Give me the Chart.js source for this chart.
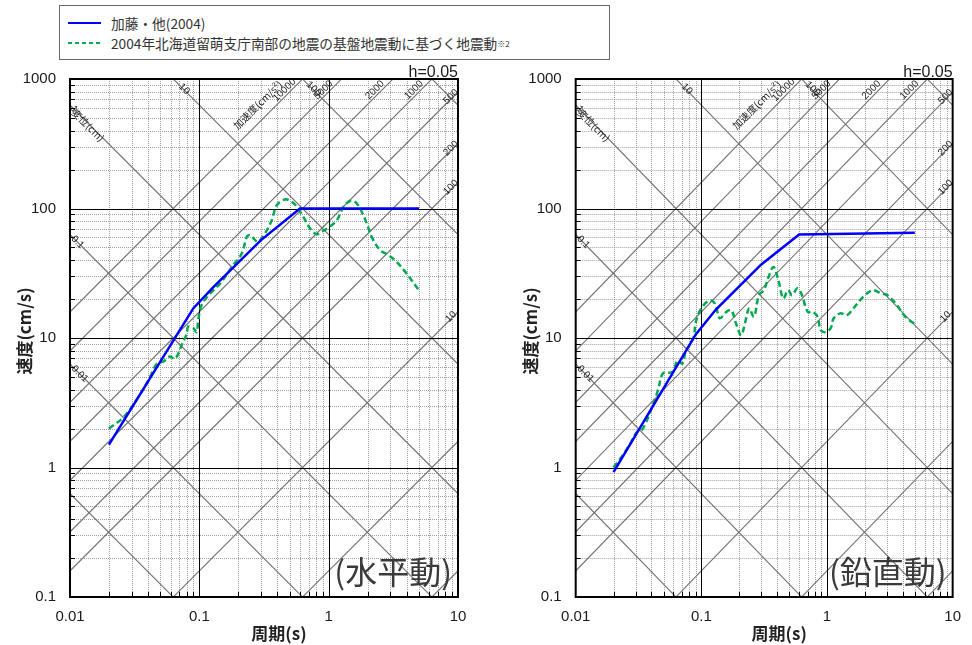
<!DOCTYPE html>
<html>
<head>
<meta charset="utf-8">
<script src="https://cdn.jsdelivr.net/npm/chart.js@4.4.0/dist/chart.umd.min.js"></script>
<style>
  html,body{margin:0;padding:0;background:#fff;}
  body{width:972px;height:645px;overflow:hidden;position:relative;font-family:"Noto Sans CJK JP","Liberation Sans",sans-serif;}
  canvas{position:absolute;top:0;}
  #c1{left:0;}
  #c2{left:486px;}
  #legend{position:absolute;left:59px;top:5px;width:551px;height:55px;border:1px solid #6a6a6a;box-sizing:border-box;background:#fff;z-index:2;}
  .row{position:absolute;left:8px;height:20px;display:flex;align-items:center;font-size:13.7px;color:#333;white-space:nowrap;}
  .row svg{margin-right:10px;}
  #r1{top:7px;}
  #r2{top:27px;}
  sup{font-size:8px;vertical-align:6px;}
</style>
</head>
<body>
<div id="legend">
  <div class="row" id="r1"><svg width="33" height="4"><line x1="0" y1="2" x2="33" y2="2" stroke="#0000ff" stroke-width="2"/></svg><span id="n1"></span></div>
  <div class="row" id="r2"><svg width="33" height="4"><line x1="0" y1="2" x2="33" y2="2" stroke="#00a84f" stroke-width="2" stroke-dasharray="4,3"/></svg><span id="n2"></span><sup>※2</sup></div>
</div>
<canvas id="c1" width="486" height="645"></canvas>
<canvas id="c2" width="486" height="645"></canvas>
<script>
// ---------------- data ----------------
const seriesNames = ['加藤・他(2004)', '2004年北海道留萌支庁南部の地震の基盤地震動に基づく地震動'];
const panelNames = ['(水平動)', '(鉛直動)'];

// 加藤・他(2004) horizontal
const katoH_T = [0.02, 0.09, 0.13, 0.3, 0.6, 5];
const katoH_V = [1.5, 17, 25, 57, 100, 100];
// 加藤・他(2004) vertical
const katoV_T = [0.02, 0.09, 0.13, 0.3, 0.6, 5];
const katoV_V = [0.92, 10.6, 16.5, 37, 63, 65];

// 留萌 horizontal
const rumoiH_T = [0.02, 0.0258, 0.0332, 0.0404, 0.0468, 0.053, 0.0593, 0.065, 0.073, 0.08, 0.082, 0.09, 0.0955, 0.098, 0.104, 0.121, 0.145, 0.183, 0.213, 0.233, 0.247, 0.27, 0.286, 0.322, 0.363, 0.397, 0.46, 0.519, 0.567, 0.637, 0.718, 0.809, 0.91, 1.03, 1.16, 1.30, 1.47, 1.6, 1.75, 1.97, 2.15, 2.5, 2.9, 3.36, 4.0, 4.94];
const rumoiH_V = [2.0, 2.43, 3.4, 4.72, 6.3, 6.6, 7.2, 6.9, 8.8, 10.8, 12.2, 11.9, 11.1, 13.7, 17.9, 22, 26.4, 36.6, 45, 60.4, 62.3, 57, 55.3, 64.3, 81.3, 106, 117.5, 112.7, 103, 86.3, 70.2, 63.4, 67.3, 73.1, 81.3, 103, 114.8, 112.7, 100, 76.7, 60.4, 47.7, 43.6, 38.7, 31.5, 23.7];
// 留萌 vertical
const rumoiV_T = [0.02, 0.0242, 0.0272, 0.0307, 0.0335, 0.0378, 0.0452, 0.0494, 0.0591, 0.0646, 0.0706, 0.075, 0.087, 0.0897, 0.098, 0.114, 0.125, 0.132, 0.14, 0.158, 0.173, 0.189, 0.207, 0.219, 0.24, 0.262, 0.287, 0.314, 0.343, 0.375, 0.41, 0.449, 0.49, 0.527, 0.58, 0.624, 0.703, 0.768, 0.84, 0.892, 0.975, 1.07, 1.13, 1.28, 1.44, 1.62, 1.94, 2.31, 2.69, 3.03, 3.51, 4.2, 5.0];
const rumoiV_V = [1.0, 1.28, 1.53, 1.88, 1.94, 2.45, 3.96, 5.32, 5.47, 6.73, 6.35, 7.8, 10.2, 12.9, 16.4, 19.4, 19.0, 16.9, 14.2, 15.9, 16.4, 12.9, 10.5, 12.2, 16.9, 14.6, 21.4, 23.4, 29.7, 35.4, 28, 20.2, 23.4, 21.4, 24.2, 22.1, 15.9, 15.9, 14.6, 11.5, 11.1, 11.9, 14.2, 15.5, 15.0, 16.9, 20.8, 23.4, 22.1, 21.4, 18.5, 14.6, 12.8];

// tripartite reference lines
const dispLines = [0.001, 0.01, 0.1, 1, 10, 100, 1000];          // 変位 (cm)
const accLines = [0.1, 1, 10, 100, 200, 500, 1000, 2000, 5000, 10000]; // 加速度 (cm/s2)
const dispLabelsLeft = [1, 0.1, 0.01];
const dispLabelsTop = [10, 100];
const accLabelsTop = [10000, 5000, 2000, 1000];
const accLabelsRight = [500, 200, 100, 10];

const xTickLabels = ['0.01', '0.1', '1', '10'];
const yTickLabels = ['0.1', '1', '10', '100', '1000'];
const dampingText = 'h=0.05';
const xTitle = '周期(s)';
const yTitle = '速度(cm/s)';
const dispTitle = '変位(cm)';
const accTitle = '加速度(cm/s²)';

document.getElementById('n1').textContent = seriesNames[0];
document.getElementById('n2').textContent = seriesNames[1];

// ---------------- drawing ----------------
const TWO_PI = 2 * Math.PI;
const LATIN = '"Liberation Sans", Arial, sans-serif';
const CJK = '"Noto Sans CJK JP", sans-serif';

function seg(ctx, x1, y1, x2, y2) { ctx.beginPath(); ctx.moveTo(x1, y1); ctx.lineTo(x2, y2); ctx.stroke(); }
function rotText(ctx, txt, cx, cy, ang) {
  ctx.save(); ctx.translate(cx, cy); ctx.rotate(ang);
  ctx.textAlign = 'center'; ctx.textBaseline = 'middle';
  ctx.fillText(txt, 0, 0); ctx.restore();
}

const tripartite = {
  id: 'tripartite',
  beforeDatasetsDraw(chart) {
    const { ctx, chartArea: a, scales: { x, y } } = chart;
    const L = a.left, R = a.right, T = a.top, B = a.bottom;
    ctx.save();
    // minor grid
    ctx.strokeStyle = '#a0a0a0'; ctx.lineWidth = 1; ctx.setLineDash([1, 1]);
    for (let e = -2; e < 1; e++) for (let m = 2; m <= 9; m++) {
      const px = Math.round(x.getPixelForValue(m * Math.pow(10, e))) + 0.5; seg(ctx, px, T, px, B);
    }
    for (let e = -1; e < 3; e++) for (let m = 2; m <= 9; m++) {
      const py = Math.round(y.getPixelForValue(m * Math.pow(10, e))) + 0.5; seg(ctx, L, py, R, py);
    }
    ctx.setLineDash([]);
    // diagonal lines
    ctx.save(); ctx.beginPath(); ctx.rect(L, T, R - L, B - T); ctx.clip();
    ctx.strokeStyle = '#727272'; ctx.lineWidth = 1.1;
    const t0 = 0.001, t1 = 100;
    dispLines.forEach(d => seg(ctx, x.getPixelForValue(t0), y.getPixelForValue(TWO_PI * d / t0), x.getPixelForValue(t1), y.getPixelForValue(TWO_PI * d / t1)));
    accLines.forEach(s => seg(ctx, x.getPixelForValue(t0), y.getPixelForValue(s * t0 / TWO_PI), x.getPixelForValue(t1), y.getPixelForValue(s * t1 / TWO_PI)));
    ctx.restore();
    // major grid
    ctx.strokeStyle = '#000'; ctx.lineWidth = 1;
    for (let e = -1; e < 1; e++) { const px = Math.round(x.getPixelForValue(Math.pow(10, e))) + 0.5; seg(ctx, px, T, px, B); }
    for (let e = 0; e < 3; e++) { const py = Math.round(y.getPixelForValue(Math.pow(10, e))) + 0.5; seg(ctx, L, py, R, py); }
    // minor ticks
    for (let e = -2; e < 1; e++) for (let m = 2; m <= 9; m++) {
      const px = Math.round(x.getPixelForValue(m * Math.pow(10, e))) + 0.5; seg(ctx, px, B, px, B - 5);
    }
    for (let e = -1; e < 3; e++) for (let m = 2; m <= 9; m++) {
      const py = Math.round(y.getPixelForValue(m * Math.pow(10, e))) + 0.5; seg(ctx, L, py, L + 5, py);
    }
    // diagonal labels
    ctx.fillStyle = '#222';
    ctx.font = '10px ' + LATIN;
    dispLabelsTop.forEach(d => {
      const xc = x.getPixelForValue(TWO_PI * d / 1000);
      rotText(ctx, String(d), xc + 11, T + 10, Math.PI / 4);
    });
    dispLabelsLeft.forEach(d => {
      const yc = y.getPixelForValue(TWO_PI * d / 0.01);
      const w = ctx.measureText(String(d)).width;
      rotText(ctx, String(d), L + 2 + w * 0.4, yc + 2 + w * 0.4, Math.PI / 4);
    });
    accLabelsTop.forEach(s => {
      const xc = x.getPixelForValue(TWO_PI * 1000 / s);
      rotText(ctx, String(s), xc - 18, T + 11, -Math.PI / 4);
    });
    accLabelsRight.forEach(s => {
      const yc = y.getPixelForValue(s * 10 / TWO_PI);
      rotText(ctx, String(s), R - 7, yc + 5, -Math.PI / 4);
    });
    ctx.font = '10px ' + CJK;
    const yd1 = y.getPixelForValue(TWO_PI * 1 / 0.01);
    rotText(ctx, dispTitle, L + 18, yd1 + 20, Math.PI / 4);
    const xa = x.getPixelForValue(TWO_PI * 1000 / 10000);
    rotText(ctx, accTitle, xa - 45, T + 26, -Math.PI / 4);
    ctx.restore();
  },
  afterDatasetsDraw(chart, args, opts) {
    const { ctx, chartArea: a } = chart;
    const L = a.left, R = a.right, T = a.top, B = a.bottom;
    ctx.save();
    ctx.strokeStyle = '#000'; ctx.lineWidth = 2;
    ctx.strokeRect(L, T, R - L, B - T);
    // damping
    ctx.fillStyle = '#1a1a1a'; ctx.font = '16px ' + LATIN;
    ctx.textAlign = 'right'; ctx.textBaseline = 'alphabetic';
    ctx.fillText(dampingText, R, T - 2);
    // panel text
    ctx.fillStyle = '#3a3a3a'; ctx.font = '32px ' + CJK;
    ctx.fillText(opts.panel, R - 6, B - 13);
    // axis titles
    ctx.fillStyle = '#222'; ctx.font = 'bold 17px ' + CJK;
    ctx.textAlign = 'center'; ctx.textBaseline = 'middle';
    ctx.fillText(xTitle, (L + R) / 2 + 15, 634);
    ctx.save(); ctx.translate(opts.yTitleX, 331); ctx.rotate(-Math.PI / 2);
    ctx.fillText(yTitle, 0, 0); ctx.restore();
    ctx.restore();
  }
};

function decadeLabel(v, arr, offset) {
  const e = Math.log10(v);
  const r = Math.round(e);
  if (Math.abs(e - r) < 1e-6) return arr[r + offset] || '';
  return '';
}

function makeChart(id, kT, kV, rT, rV, geom, panel) {
  return new Chart(document.getElementById(id), {
    type: 'scatter',
    data: {
      datasets: [
        { label: seriesNames[0], data: kT.map((t, i) => ({ x: t, y: kV[i] })), showLine: true, borderColor: '#0000ff', borderWidth: 2.5, pointRadius: 0, tension: 0 },
        { label: seriesNames[1], data: rT.map((t, i) => ({ x: t, y: rV[i] })), showLine: true, borderColor: '#00a84f', borderWidth: 2.5, borderDash: [6, 3.5], pointRadius: 0, tension: 0.35 }
      ]
    },
    options: {
      responsive: false, animation: false, devicePixelRatio: 1,
      layout: { padding: { left: 0, top: 79, right: geom.right, bottom: 0 } },
      plugins: { legend: { display: false }, tooltip: { enabled: false }, tripartite: { panel: panel, yTitleX: geom.yTitleX } },
      scales: {
        x: {
          type: 'logarithmic', min: 0.01, max: 10,
          afterFit(s) { s.height = 48; },
          grid: { display: false, drawTicks: false }, border: { display: false },
          ticks: { autoSkip: false, maxRotation: 0, padding: 11, color: '#1a1a1a', font: { family: LATIN, size: 15 },
            callback: (v) => decadeLabel(v, xTickLabels, 2) }
        },
        y: {
          type: 'logarithmic', min: 0.1, max: 1000,
          afterFit(s) { s.width = geom.left; },
          grid: { display: false, drawTicks: false }, border: { display: false },
          ticks: { autoSkip: false, padding: 14, color: '#1a1a1a', font: { family: LATIN, size: 15 },
            callback: (v) => decadeLabel(v, yTickLabels, 1) }
        }
      }
    },
    plugins: [tripartite]
  });
}

makeChart('c1', katoH_T, katoH_V, rumoiH_T, rumoiH_V, { left: 70, right: 28, yTitleX: 25 }, panelNames[0]);
makeChart('c2', katoV_T, katoV_V, rumoiV_T, rumoiV_V, { left: 89.7, right: 10.3, yTitleX: 45 }, panelNames[1]);
</script>
</body>
</html>
